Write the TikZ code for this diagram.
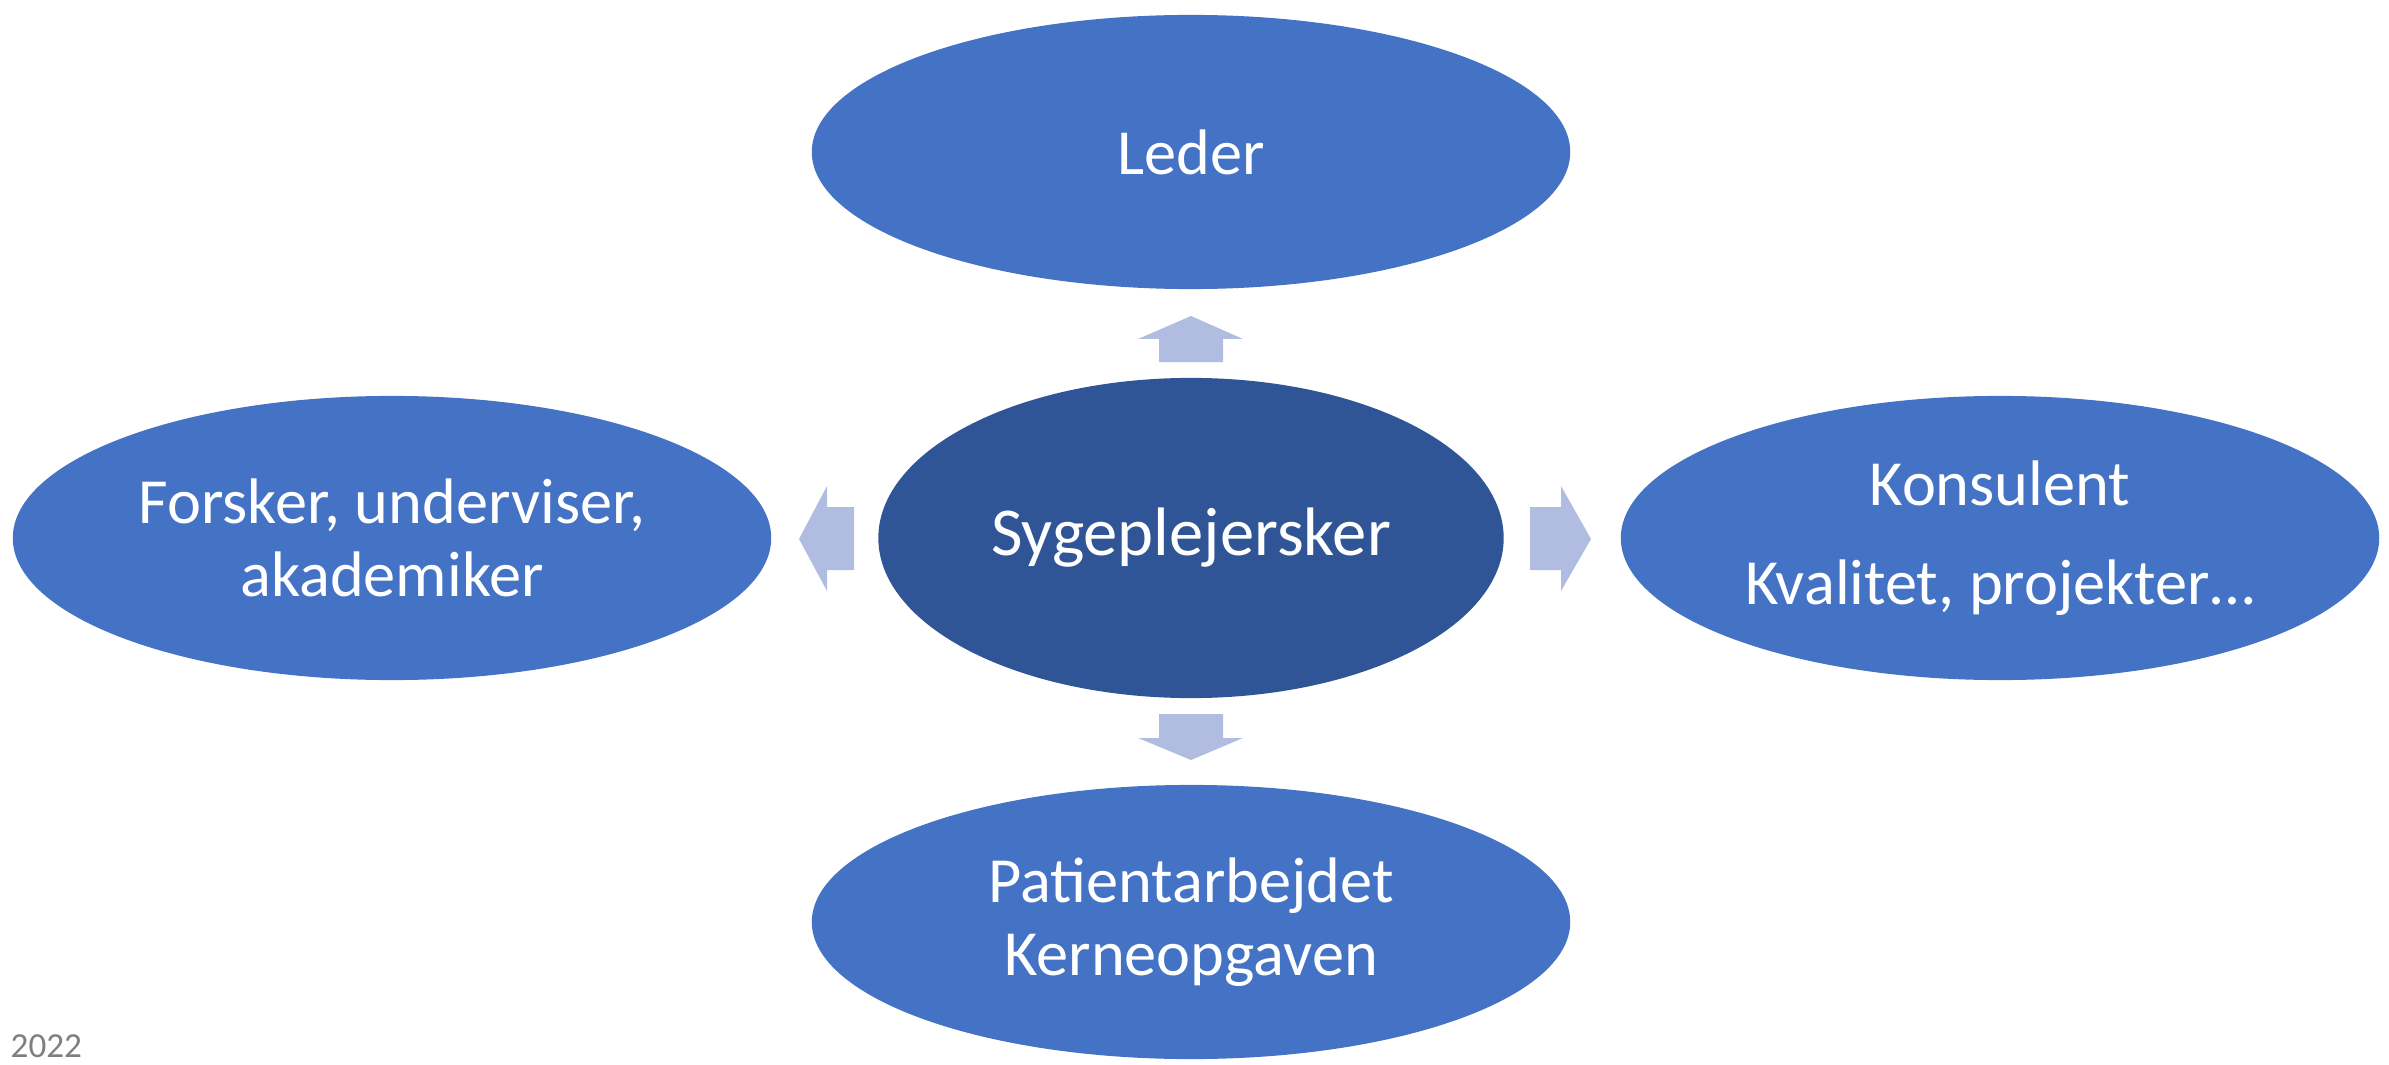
\documentclass[tikz,border=0pt]{standalone}
\usepackage{fontspec}
\setmainfont{Carlito}
\usepackage{xcolor}
\usepackage{tikz}
\usetikzlibrary{shapes.geometric}
\definecolor{roleblue}{RGB}{68,114,196}
\definecolor{coreblue}{RGB}{47,85,151}
\definecolor{arrowblue}{RGB}{176,189,224}
\definecolor{yeargray}{RGB}{127,127,127}

\tikzset{
  role/.style={ellipse, fill=roleblue, inner sep=0pt, outer sep=0pt,
    minimum width=7.58cm, minimum height=2.74cm, text=white, align=center,
    font=\fontsize{18.3}{20.6}\selectfont},
  core/.style={role, fill=coreblue, minimum width=6.25cm, minimum height=3.2cm,
    font=\fontsize{19.5}{20.6}\selectfont},
  blockarrow/.style={fill=arrowblue}
}

\begin{document}
\begin{tikzpicture}[x=0.01cm, y=-0.01cm]
  \useasboundingbox (0,0) rectangle (2389,1064);

  % ellipses
  \node[core] (nurse) at (1191,538) {Sygeplejersker};
  \node[role] (lead) at (1191,152) {Leder};
  \node[role] (patient) at (1191,922) {Patientarbejdet\\Kerneopgaven};
  \node[role, minimum height=2.84cm] (research) at (392,538)
    {Forsker, underviser,\\akademiker};
  \node[role, minimum height=2.84cm] (consult) at (2000,538)
    {Konsulent\\[0.26cm]Kvalitet, projekter\ldots};

  % block arrows
  \fill[blockarrow] (1159,362) -- (1159,339) -- (1138,339) -- (1191,316)
    -- (1243,339) -- (1223,339) -- (1223,362) -- cycle;
  \fill[blockarrow] (1159,714) -- (1159,738) -- (1138,738) -- (1191,760)
    -- (1243,738) -- (1223,738) -- (1223,714) -- cycle;
  \fill[blockarrow] (854,507) -- (827,507) -- (827,486) -- (799,539)
    -- (827,591) -- (827,570) -- (854,570) -- cycle;
  \fill[blockarrow] (1530,507) -- (1561,507) -- (1561,486) -- (1591,539)
    -- (1561,591) -- (1561,570) -- (1530,570) -- cycle;

  \node[anchor=west, text=yeargray, inner sep=0pt,
    font=\fontsize{10}{12}\selectfont] (year) at (10,1046) {2022};
\end{tikzpicture}
\end{document}
